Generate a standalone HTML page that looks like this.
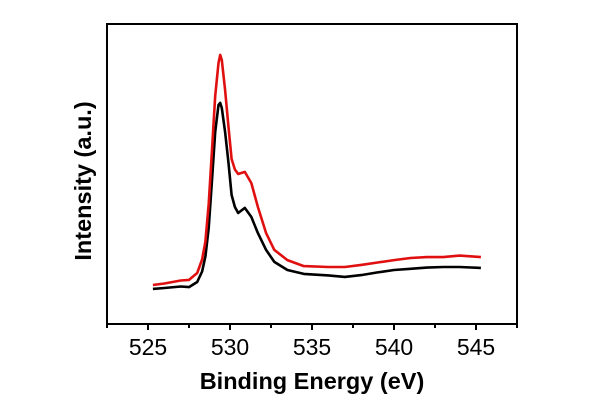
<!DOCTYPE html>
<html><head><meta charset="utf-8"><style>
html,body{margin:0;padding:0;background:#fff;}
svg{display:block;font-family:"Liberation Sans",Arial,sans-serif;}
</style></head><body>
<svg id="chart" width="600" height="418" viewBox="0 0 600 418">
<rect x="107" y="24" width="410" height="300" fill="none" stroke="#000" stroke-width="2"/>
<g id="ticks"></g>
<g id="series"></g>
<text x="312" y="389" text-anchor="middle" font-size="23.5" font-weight="bold">Binding Energy (eV)</text>
<text transform="translate(91,181) rotate(-90)" text-anchor="middle" font-size="23.5" font-weight="bold">Intensity (a.u.)</text>
</svg>
<script>
const xTicks = [525, 530, 535, 540, 545];
const xMinor = [522.5, 527.5, 532.5, 537.5, 542.5, 547.5];
const energy = [525.3, 526, 527, 527.5, 528, 528.3, 528.5, 528.7, 528.9, 529.1, 529.3, 529.4, 529.5, 529.7, 529.9, 530.1, 530.3, 530.5, 530.9, 531.3, 531.7, 532.2, 532.7, 533.5, 534.5, 536, 537, 538, 539, 540, 541, 542, 543, 544, 545.3];
const blackSeries = [11.7, 12, 12.5, 12.3, 14, 17.5, 22.5, 32, 48, 64, 73, 73.7, 72, 64, 54, 43, 39, 37, 38.7, 35.7, 30.3, 24.7, 20.7, 18, 16.7, 16.2, 15.7, 16.3, 17.2, 18, 18.4, 18.8, 19, 19, 18.7];
const redSeries = [13, 13.5, 14.5, 14.7, 17, 21.5, 27.5, 40, 58, 76, 87, 89.7, 88, 78, 66, 55, 51.5, 50, 50.7, 47, 39, 30.3, 24.7, 21.3, 19.3, 19, 19, 19.7, 20.5, 21.3, 22, 22.3, 22.3, 22.8, 22.3];
const NS = "http://www.w3.org/2000/svg";
const xMin = 522.5, xMax = 547.5, L = 107, R = 517, T = 24, B = 324;
function xs(v){ return L + (v - xMin) / (xMax - xMin) * (R - L); }
function ys(v){ return B - v / 100 * (B - T); }
const tg = document.getElementById('ticks');
xTicks.forEach(t => {
  const l = document.createElementNS(NS, 'line');
  l.setAttribute('x1', xs(t)); l.setAttribute('x2', xs(t));
  l.setAttribute('y1', B); l.setAttribute('y2', B + 6);
  l.setAttribute('stroke', '#000'); l.setAttribute('stroke-width', '2');
  
  
  tg.appendChild(l);
  const tx = document.createElementNS(NS, 'text');
  tx.setAttribute('x', xs(t)); tx.setAttribute('y', 355);
  tx.setAttribute('text-anchor', 'middle'); tx.setAttribute('font-size', '23');
  tx.textContent = t;
  
  
  tg.appendChild(tx);
});
xMinor.forEach(t => {
  const l = document.createElementNS(NS, 'line');
  l.setAttribute('x1', xs(t)); l.setAttribute('x2', xs(t));
  l.setAttribute('y1', B); l.setAttribute('y2', B + 4);
  l.setAttribute('stroke', '#000'); l.setAttribute('stroke-width', '2');
  
  
  tg.appendChild(l);
});
const sg = document.getElementById('series');
function draw(vals, color, name){
  const p = document.createElementNS(NS, 'polyline');
  p.setAttribute('points', energy.map((e, i) => xs(e).toFixed(1) + ',' + ys(vals[i]).toFixed(1)).join(' '));
  p.setAttribute('fill', 'none'); p.setAttribute('stroke', color);
  p.setAttribute('stroke-width', '2.6'); p.setAttribute('stroke-linejoin', 'round');
  
  
  sg.appendChild(p);
}
draw(blackSeries, '#000', 'black-spectrum-line');
draw(redSeries, '#e01010', 'red-spectrum-line');
</script>
</body></html>
